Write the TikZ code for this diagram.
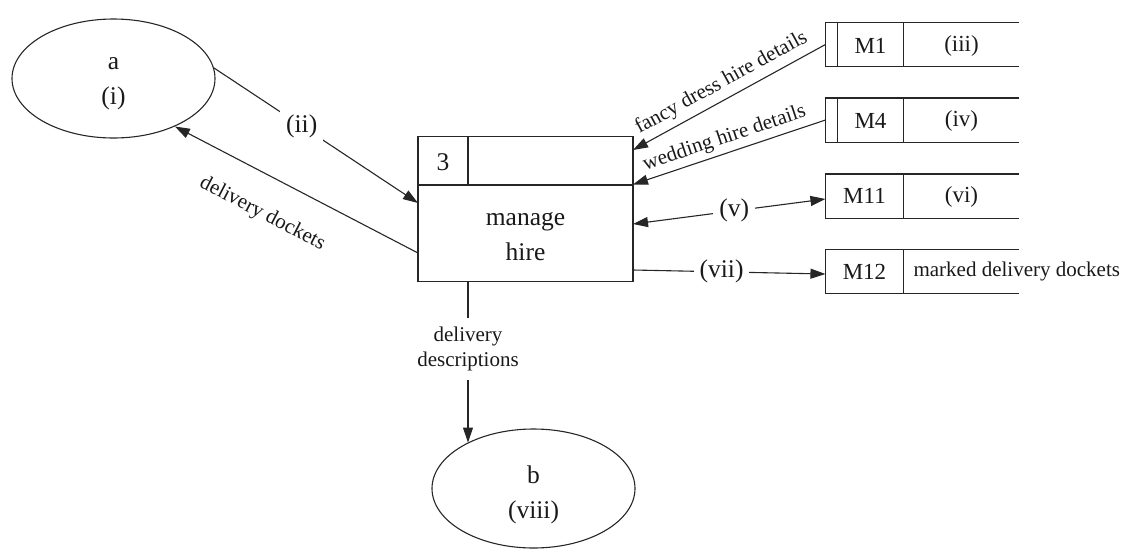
\documentclass[tikz,border=0pt]{standalone}
\usepackage{fontspec}
\setmainfont{Liberation Serif}
\usetikzlibrary{arrows.meta,shapes.geometric,calc}
\begin{document}
\begin{tikzpicture}[x=1pt,y=-1pt,
  line width=1.1pt, draw=black!85, text=black!90,
  big/.style={font=\fontsize{25.5}{35}\selectfont, align=center, inner sep=0pt},
  stxt/.style={font=\fontsize{23}{28}\selectfont, inner sep=0pt},
  small/.style={font=\fontsize{21}{25}\selectfont, align=center, inner sep=0pt},
  flow/.style={-{Triangle[length=15pt,width=10pt]}},
  flowboth/.style={{Triangle[length=15pt,width=10pt]}-{Triangle[length=15pt,width=10pt]}},
  gap/.style={fill=white, inner sep=6pt},
  ent/.style={ellipse, draw, minimum width=203pt, minimum height=119pt, inner sep=0pt},
  storebox/.style={rectangle, minimum width=77pt, minimum height=43pt, inner sep=0pt}]
\useasboundingbox (0,0) rectangle (1128,550);

% external entities
\node[ent] (a) at (113.5,78.5) {};
\node[big] (atxt) at (113.5,84) {a\\(i)};
\node[ent] (b) at (533.5,488.5) {};
\node[big] (btxt) at (533.5,495) {b\\(viii)};

% process
\node[draw, rectangle, minimum width=215pt, minimum height=145pt, inner sep=0pt] (p) at (525.5,209) {};
\draw (p.west |- 0,185) -- (p.east |- 0,185);
\draw (468,136.5) -- (468,185);
\node[big] (pnum) at (443,162) {3};
\node[big] (pname) at (525.5,237) {manage\\hire};

% data stores
\node[storebox] (m1) at (864.5,44.5) {};
\node[storebox] (m4) at (864.5,120) {};
\node[storebox] (m11) at (864.5,196) {};
\node[storebox] (m12) at (864.5,271.5) {};
\foreach \s in {m1,m4,m11,m12}{
  \draw (\s.north west) -- ++(194,0);
  \draw (\s.south west) -- ++(194,0);
  \draw (\s.north west) -- (\s.south west);
  \draw (\s.north east) -- (\s.south east);
}
\draw ([xshift=12pt]m1.north west) -- ([xshift=12pt]m1.south west);
\draw ([xshift=12pt]m4.north west) -- ([xshift=12pt]m4.south west);

\node[stxt] (m1id) at (870.5,45.5) {M1};
\node[stxt] (m1nm) at (961.5,45.5) {(iii)};
\node[stxt] (m4id) at (870.5,121) {M4};
\node[stxt] (m4nm) at (961.5,121) {(iv)};
\node[stxt] (m11id) at (864.5,196) {M11};
\node[stxt] (m11nm) at (961.5,197) {(vi)};
\node[stxt] (m12id) at (864.5,271.5) {M12};
\node[small, anchor=west] (m12nm) at (913,271.5) {marked delivery dockets};

% connection points on the process box
\coordinate (pF) at (633,150);
\coordinate (pW) at (633,184.5);
\coordinate (pV) at (633,224);
\coordinate (pVII) at (633,270);
\coordinate (pII) at (418,203);
\coordinate (pD) at (418,253);
\coordinate (pB) at (468,281.5);

% flows
\draw[flow] (a.6) -- node[big, gap, pos=0.43] (lii) {(ii)} (pII);
\draw[flow] (pD) -- node[small, sloped, below=27pt, pos=0.57] (ldd) {delivery dockets} (a.-38);
\draw[flow] (m1.west) -- node[small, sloped, above=6pt, pos=0.5] (lf) {fancy dress hire details} (pF);
\draw[flow] (m4.west) -- node[small, sloped, above=4.5pt, pos=0.5] (lw) {wedding hire details} (pW);
\draw[flowboth] (pV) -- node[big, gap, pos=0.526] (lv) {(v)} ([yshift=-3pt]m11.west);
\draw[flow] (pVII) -- node[big, gap, pos=0.46] (lvii) {(vii)} ([yshift=-2.5pt]m12.west);
\draw[flow] (pB) -- node[small, fill=white, inner xsep=4pt, inner ysep=9pt, pos=0.42] (ldesc) {delivery\\descriptions} (pB |- b.145);
\end{tikzpicture}
\end{document}
